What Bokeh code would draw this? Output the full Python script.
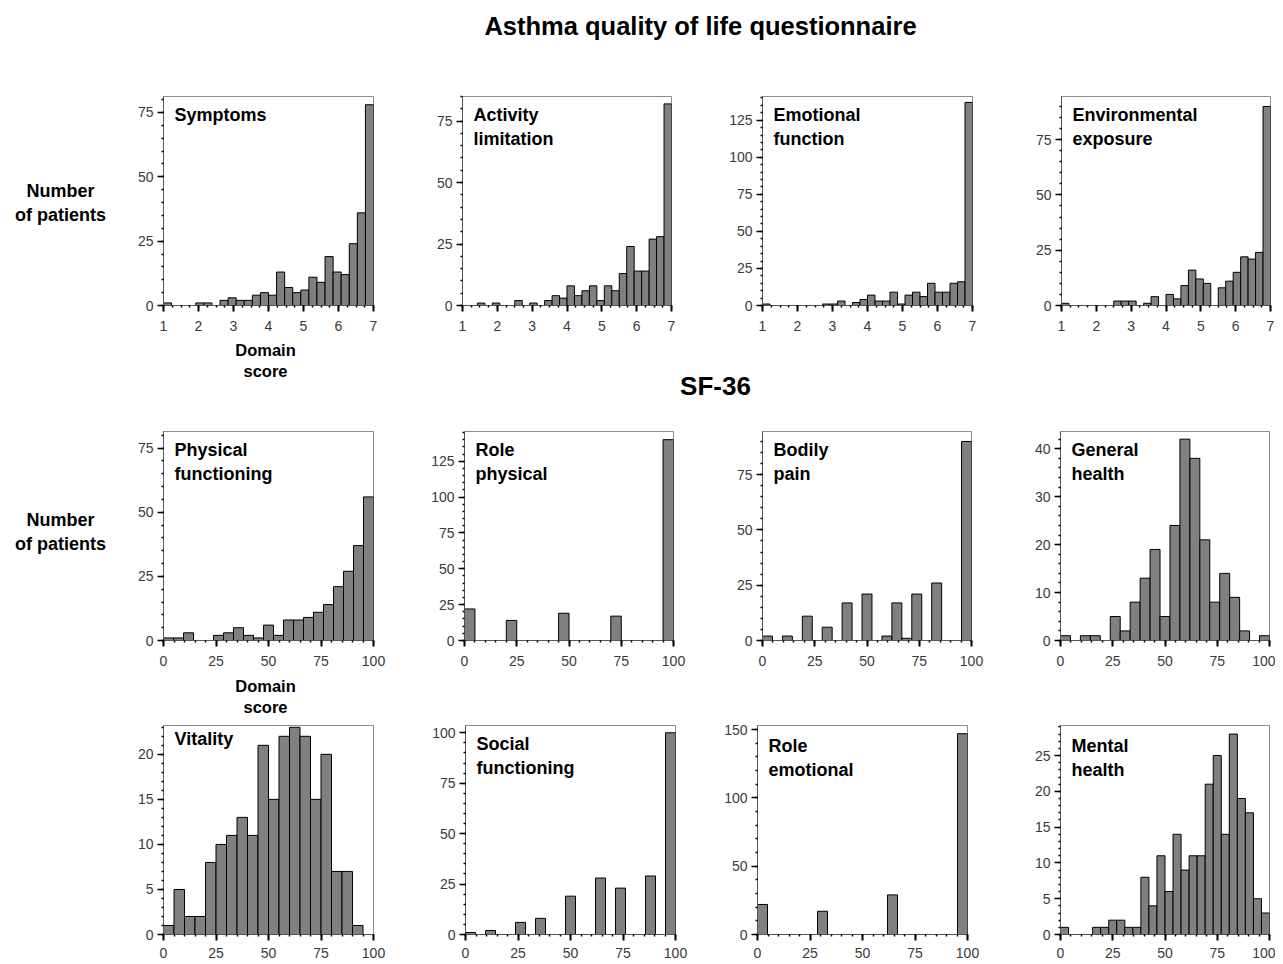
from bokeh.plotting import figure
from bokeh.layouts import column, row
from bokeh.models import FixedTicker, Range1d, Spacer
from bokeh.embed import file_html
from bokeh.resources import INLINE
from bokeh.core.properties import value

FONT = "Liberation Sans"

# ---------------- data ----------------
title_main = "Asthma quality of life questionnaire"
title_sf36 = "SF-36"
y_label = "Number\nof patients"
x_label = "Domain\nscore"

aqlq_names = ["Symptoms", "Activity\nlimitation", "Emotional\nfunction", "Environmental\nexposure"]
symptoms = [1, 0, 0, 0, 1, 1, 0, 2, 3, 2, 2, 4, 5, 4, 13, 7, 5, 6, 11, 9, 19, 13, 12, 24, 36, 78]
activity = [0, 0, 1, 0, 1, 0, 0, 2, 0, 1, 0, 2, 4, 3, 8, 4, 6, 8, 2, 8, 6, 13, 24, 14, 14, 27, 28, 82]
emotional = [1, 0, 0, 0, 0, 0, 0, 0, 1, 1, 3, 0, 2, 4, 7, 3, 3, 9, 1, 7, 9, 6, 15, 9, 9, 15, 16, 137]
environmental = [1, 0, 0, 0, 0, 0, 0, 2, 2, 2, 0, 1, 4, 0, 5, 3, 9, 16, 12, 10, 0, 8, 11, 15, 22, 21, 24, 90]

sf_names_a = ["Physical\nfunctioning", "Role\nphysical", "Bodily\npain", "General\nhealth"]
physical = [1, 1, 3, 0, 0, 2, 3, 5, 2, 1, 6, 2, 8, 8, 9, 11, 14, 21, 27, 37, 56]
role_physical = [22, 0, 0, 0, 14, 0, 0, 0, 0, 19, 0, 0, 0, 0, 17, 0, 0, 0, 0, 140]
bodily = [2, 0, 2, 0, 11, 0, 6, 0, 17, 0, 21, 0, 2, 17, 1, 21, 0, 26, 0, 0, 90]
general = [1, 0, 1, 1, 0, 5, 2, 8, 13, 19, 5, 24, 42, 38, 21, 8, 14, 9, 2, 0, 1]

sf_names_b = ["Vitality", "Social\nfunctioning", "Role\nemotional", "Mental\nhealth"]
vitality = [1, 5, 2, 2, 8, 10, 11, 13, 11, 21, 15, 22, 23, 22, 15, 20, 7, 7, 1, 0]
social = [1, 0, 2, 0, 0, 6, 0, 8, 0, 0, 19, 0, 0, 28, 0, 23, 0, 0, 29, 0, 100]
role_emotional = [22, 0, 0, 0, 0, 0, 17, 0, 0, 0, 0, 0, 0, 29, 0, 0, 0, 0, 0, 0, 147]
mental = [1, 0, 0, 0, 1, 1, 2, 2, 1, 1, 8, 4, 11, 6, 14, 9, 11, 11, 21, 25, 14, 28, 19, 17, 5, 3]

aqlq_x_ticks = [1, 2, 3, 4, 5, 6, 7]
sf_x_ticks = [0, 25, 50, 75, 100]

y_ticks = {
    "Symptoms": [0, 25, 50, 75],
    "Activity": [0, 25, 50, 75],
    "Emotional": [0, 25, 50, 75, 100, 125],
    "Environmental": [0, 25, 50, 75],
    "Physical": [0, 25, 50, 75],
    "RolePh": [0, 25, 50, 75, 100, 125],
    "Bodily": [0, 25, 50, 75],
    "General": [0, 10, 20, 30, 40],
    "Vitality": [0, 5, 10, 15, 20],
    "Social": [0, 25, 50, 75, 100],
    "RoleEm": [0, 50, 100, 150],
    "Mental": [0, 5, 10, 15, 20, 25],
}
y_max = {
    "Symptoms": 81.2, "Activity": 85, "Emotional": 141, "Environmental": 94.5,
    "Physical": 81.5, "RolePh": 145.7, "Bodily": 94.5, "General": 43.6,
    "Vitality": 23.2, "Social": 103.6, "RoleEm": 153, "Mental": 29.2,
}


# ---------------- helpers ----------------
def text_fig(w, h):
    p = figure(width=w, height=h, x_range=Range1d(0, w), y_range=Range1d(0, h),
               output_backend="svg", toolbar_location=None, min_border=0,
               x_axis_location=None, y_axis_location=None)
    p.grid.visible = False
    p.outline_line_color = None
    return p


def panel(counts, name, key, x0, x1, xticks, xminor_step, fig_w, fig_h,
          bl, fw, bt, bb, standoff=9, label_dy=8):
    ymax = y_max[key]
    yt = y_ticks[key]
    p = figure(width=fig_w, height=fig_h,
               x_range=Range1d(x0, x1), y_range=Range1d(0, ymax),
               output_backend="svg", toolbar_location=None,
               min_border_left=bl, min_border_right=fig_w - bl - fw,
               min_border_top=bt, min_border_bottom=bb)
    n = len(counts)
    w = (x1 - x0) / n
    idx = [i for i, c in enumerate(counts) if c > 0]
    p.quad(left=[x0 + i * w for i in idx], right=[x0 + (i + 1) * w for i in idx],
           bottom=0, top=[counts[i] for i in idx],
           fill_color="#808080", line_color="black", line_width=1)
    p.text(x=[x0], y=[ymax], text=[name], x_offset=11, y_offset=label_dy,
           text_font=value(FONT), text_font_size="18px", text_font_style="bold",
           text_baseline="top", text_align="left", text_line_height=1.2,
           text_color="black")
    p.grid.visible = False
    p.outline_line_color = "#8c8c8c"
    p.outline_line_width = 1

    nx = int(round((x1 - x0) / xminor_step))
    p.xaxis.ticker = FixedTicker(ticks=xticks,
                                 minor_ticks=[x0 + k * xminor_step for k in range(nx + 1)])
    ystep = (yt[1] - yt[0]) / 5
    ny = int(ymax / ystep)
    p.yaxis.ticker = FixedTicker(ticks=yt, minor_ticks=[k * ystep for k in range(ny + 1)])

    for ax in (p.xaxis, p.yaxis):
        ax.axis_line_color = "#555555"
        ax.axis_line_width = 1
        ax.major_tick_line_color = "black"
        ax.major_tick_out = 6
        ax.major_tick_in = 0
        ax.minor_tick_line_color = "black"
        ax.minor_tick_line_width = 1.5
        ax.minor_tick_out = 2
        ax.minor_tick_in = 0
        ax.major_label_text_font = FONT
        ax.major_label_text_font_size = "14px"
        ax.major_label_text_color = "#3a3a3a"
    p.xaxis.major_tick_line_width = 2
    p.yaxis.major_tick_line_width = 1.5
    p.xaxis.major_label_standoff = standoff
    p.yaxis.major_label_standoff = 4
    return p


# ---------------- header ----------------
W_LEFT = 112
header = text_fig(1275, 62)
header.text(x=[700], y=[37], text=[title_main], text_font=value(FONT),
            text_font_size="25.5px", text_font_style="bold",
            text_align="center", text_baseline="middle", text_color="black")

# ---------------- row 1 (AQLQ) ----------------
H1 = 278
left1 = text_fig(W_LEFT, H1)
left1.text(x=[60], y=[137], text=[y_label], text_font=value(FONT),
           text_font_size="18px", text_font_style="bold", text_align="center",
           text_baseline="middle", text_line_height=1.2, text_color="black")

p1 = panel(symptoms, aqlq_names[0], "Symptoms", 1, 7, aqlq_x_ticks, 0.25, 300, H1, 51, 210, 34, 35)
p2 = panel(activity, aqlq_names[1], "Activity", 1, 7, aqlq_x_ticks, 0.25, 300, H1, 50, 209, 34, 35)
p3 = panel(emotional, aqlq_names[2], "Emotional", 1, 7, aqlq_x_ticks, 0.25, 300, H1, 50, 210, 34, 35)
p4 = panel(environmental, aqlq_names[3], "Environmental", 1, 7, aqlq_x_ticks, 0.25, 263, H1, 49, 209, 34, 35)

band1 = text_fig(1275, 76)
band1.text(x=[265], y=[56], text=[x_label], text_font=value(FONT),
           text_font_size="16.5px", text_font_style="bold", text_align="center",
           text_baseline="middle", text_line_height=1.22, text_color="black")
band1.text(x=[715], y=[31], text=[title_sf36], text_font=value(FONT),
           text_font_size="26px", text_font_style="bold", text_align="center",
           text_baseline="middle", text_color="black")

# ---------------- row 2 (SF-36 a) ----------------
H2 = 256
left2 = text_fig(W_LEFT, H2)
left2.text(x=[60], y=[133], text=[y_label], text_font=value(FONT),
           text_font_size="18px", text_font_style="bold", text_align="center",
           text_baseline="middle", text_line_height=1.2, text_color="black")
p5 = panel(physical, sf_names_a[0], "Physical", 0, 100, sf_x_ticks, 5, 300, H2, 51, 210, 15, 32)
p6 = panel(role_physical, sf_names_a[1], "RolePh", 0, 100, sf_x_ticks, 5, 300, H2, 52, 209, 15, 32)
p7 = panel(bodily, sf_names_a[2], "Bodily", 0, 100, sf_x_ticks, 5, 300, H2, 50, 209, 15, 32)
p8 = panel(general, sf_names_a[3], "General", 0, 100, sf_x_ticks, 5, 263, H2, 48, 209, 15, 32)

band2 = text_fig(1275, 44)
band2.text(x=[265], y=[20], text=[x_label], text_font=value(FONT),
           text_font_size="16.5px", text_font_style="bold", text_align="center",
           text_baseline="middle", text_line_height=1.22, text_color="black")

# ---------------- row 3 (SF-36 b) ----------------
H3 = 247
left3 = Spacer(width=W_LEFT, height=H3)
p9 = panel(vitality, sf_names_b[0], "Vitality", 0, 100, sf_x_ticks, 5, 300, H3 - 9, 51, 210, 0, 29,
           standoff=7, label_dy=3)
col9 = column(Spacer(width=300, height=9), p9, spacing=0)
p10 = panel(social, sf_names_b[1], "Social", 0, 100, sf_x_ticks, 5, 300, H3, 53, 210, 9, 29, standoff=7, label_dy=8)
p11 = panel(role_emotional, sf_names_b[2], "RoleEm", 0, 100, sf_x_ticks, 5, 300, H3, 45, 210, 9, 29, standoff=7, label_dy=10)
p12 = panel(mental, sf_names_b[3], "Mental", 0, 100, sf_x_ticks, 5, 263, H3, 48, 209, 9, 29, standoff=7, label_dy=10)

layout = column(
    header,
    row(left1, p1, p2, p3, p4, spacing=0),
    band1,
    row(left2, p5, p6, p7, p8, spacing=0),
    band2,
    row(left3, col9, p10, p11, p12, spacing=0),
    spacing=0,
)

open("out.html", "w").write(file_html(layout, INLINE))
